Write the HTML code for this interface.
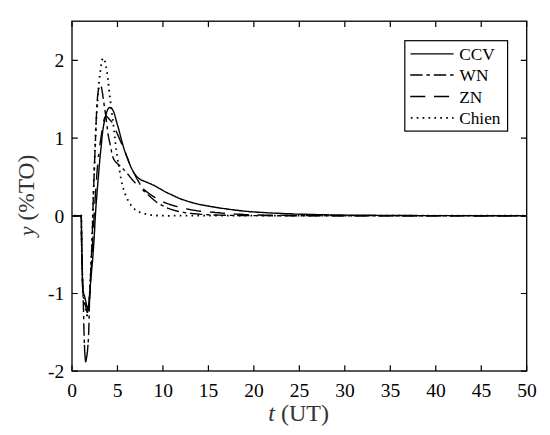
<!DOCTYPE html>
<html><head><meta charset="utf-8"><style>
html,body{margin:0;padding:0;background:#fff;}
svg{display:block;}
text{font-family:"Liberation Serif",serif;fill:#000;}
</style></head><body>
<svg width="550" height="435" viewBox="0 0 550 435">
<rect width="550" height="435" fill="#fff"/>
<path d="M72.0 215.7 81.3 215.7 81.3 218.1 81.4 220.6 81.4 223.0 81.4 225.5 81.4 227.9 81.5 230.4 81.5 232.8 81.5 235.2 81.6 237.6 81.6 240.0 81.6 242.2 81.7 244.4 81.7 246.6 81.8 248.8 81.8 250.9 81.9 253.1 81.9 255.2 82.0 257.4 82.0 259.7 82.1 262.0 82.2 264.7 82.2 267.7 82.3 270.7 82.4 273.9 82.4 277.0 82.5 280.0 82.6 282.9 82.7 285.5 82.8 287.9 82.9 290.0 83.0 290.9 83.0 291.7 83.1 292.4 83.1 293.1 83.2 293.7 83.3 294.4 83.3 295.0 83.4 295.6 83.5 296.3 83.6 297.0 83.7 297.9 83.9 298.8 84.0 299.7 84.1 300.6 84.3 301.5 84.5 302.4 84.6 303.4 84.8 304.3 84.9 305.1 85.1 306.0 85.2 306.7 85.4 307.5 85.5 308.2 85.6 309.0 85.8 309.7 85.9 310.4 86.0 311.0 86.2 311.7 86.3 312.3 86.4 312.8 86.5 313.1 86.5 313.5 86.6 313.8 86.7 314.1 86.7 314.4 86.8 314.7 86.9 315.0 87.0 315.1 87.0 315.3 87.1 315.3 87.2 315.3 87.2 315.2 87.3 315.0 87.4 314.9 87.5 314.6 87.5 314.4 87.6 314.1 87.7 313.9 87.7 313.6 87.8 313.3 87.9 312.8 88.0 312.1 88.1 311.4 88.2 310.7 88.3 309.9 88.4 309.1 88.5 308.3 88.5 307.5 88.6 306.7 88.7 306.0 88.8 305.3 88.9 304.7 88.9 304.0 89.0 303.4 89.1 302.8 89.1 302.1 89.2 301.4 89.3 300.7 89.3 299.9 89.4 299.0 89.5 297.2 89.7 295.1 89.8 292.8 89.9 290.3 90.0 287.8 90.1 285.1 90.3 282.5 90.4 279.9 90.5 277.4 90.6 275.0 90.7 272.9 90.8 270.9 90.9 268.9 91.0 266.9 91.1 264.9 91.2 263.0 91.2 261.0 91.3 259.0 91.4 257.0 91.5 255.0 91.6 252.8 91.7 250.7 91.8 248.5 91.8 246.3 91.9 244.0 92.0 241.8 92.1 239.6 92.2 237.4 92.2 235.2 92.3 233.0 92.4 230.9 92.4 228.8 92.5 226.6 92.6 224.5 92.6 222.4 92.7 220.3 92.7 218.2 92.8 216.2 92.8 214.1 92.9 212.0 93.0 210.0 93.0 208.0 93.1 206.0 93.1 204.0 93.2 202.0 93.3 200.0 93.3 198.0 93.4 196.0 93.4 194.0 93.5 192.0 93.6 190.0 93.6 188.0 93.7 185.9 93.8 183.9 93.8 181.9 93.9 179.8 94.0 177.8 94.1 175.9 94.1 173.9 94.2 172.0 94.3 170.3 94.3 168.7 94.4 167.1 94.4 165.4 94.5 163.9 94.6 162.3 94.6 160.7 94.7 159.1 94.7 157.6 94.8 156.0 94.9 154.5 94.9 153.0 95.0 151.5 95.0 150.0 95.1 148.5 95.2 147.0 95.2 145.5 95.3 144.0 95.3 142.5 95.4 141.0" fill="none" stroke="#000" stroke-width="1.80" stroke-dasharray="1.6 4.3" stroke-dashoffset="3.52"/>
<path d="M95.4 141.0 95.5 139.5 95.5 138.0 95.6 136.4 95.6 134.9 95.7 133.4 95.7 131.9 95.8 130.4 95.9 128.9 95.9 127.4 96.0 126.0 96.1 124.7 96.1 123.5 96.2 122.3 96.3 121.1 96.3 119.8 96.4 118.7 96.5 117.5 96.6 116.3 96.6 115.1 96.7 114.0 96.8 113.0 96.8 112.0 96.9 111.0 97.0 110.0 97.0 109.0 97.1 108.0 97.2 107.0 97.3 106.0 97.3 105.0 97.4 104.0 97.5 102.8 97.6 101.6 97.6 100.4 97.7 99.2 97.8 98.0 97.9 96.7 98.0 95.5 98.0 94.3 98.1 93.1 98.2 92.0 98.3 91.0 98.3 90.1 98.4 89.1 98.5 88.2 98.5 87.3 98.6 86.4 98.7 85.5 98.7 84.7 98.8 83.8 98.9 83.0 99.0 82.4 99.0 81.7 99.1 81.1 99.2 80.5 99.2 80.0 99.3 79.4 99.4 78.8 99.5 78.3 99.5 77.7 99.6 77.1 99.7 76.5 99.7 75.9 99.8 75.4 99.9 74.8 99.9 74.2 100.0 73.6 100.1 73.0 100.2 72.5 100.2 71.9 100.3 71.3 100.4 70.7 100.4 70.2 100.5 69.6 100.6 69.0 100.6 68.4 100.7 67.9 100.8 67.3 100.8 66.7 100.9 66.2 101.0 65.6 101.1 65.0 101.2 64.5 101.2 63.9 101.3 63.3 101.4 62.7 101.5 62.2 101.6 61.6 101.7 61.1 101.8 60.6 102.0 60.2 102.1 59.9 102.2 59.6 102.4 59.3 102.5 59.0 102.7 58.7 102.8 58.5 103.0 58.3 103.1 58.1 103.3 58.0 103.4 58.0 103.5 58.1 103.7 58.2 103.8 58.5 104.0 58.7 104.1 59.1 104.3 59.5 104.4 59.9 104.6 60.3 104.7 60.6 104.8 61.0 104.9 61.4 105.1 61.8 105.2 62.3 105.3 62.7 105.4 63.2 105.5 63.6 105.6 64.1 105.7 64.6 105.8 65.0 105.9 65.5 106.0 66.0 106.1 66.5 106.2 67.0 106.3 67.6 106.4 68.1 106.5 68.6 106.5 69.2 106.6 69.7 106.7 70.3 106.8 70.8 106.9 71.4 107.0 71.9 107.1 72.5 107.1 73.1 107.2 73.6 107.3 74.2 107.4 74.8 107.4 75.3 107.5 75.9 107.6 76.5 107.7 77.1 107.7 77.7 107.8 78.3 107.9 78.9 108.0 79.5 108.0 80.1 108.1 80.7 108.2 81.3 108.2 81.9 108.3 82.5 108.4 83.1 108.4 83.7 108.5 84.3 108.5 84.9 108.6 85.5 108.7 86.1 108.7 86.7 108.8 87.3 108.8 87.9 108.9 88.5 109.0 89.1 109.0 89.8 109.1 90.4 109.2 91.1 109.2 91.7 109.3 92.4 109.4 93.0 109.4 93.7 109.5 94.3 109.6 95.0 109.7 95.7 109.8 96.4 109.9 97.1 109.9 97.7 110.0 98.4 110.1 99.1 110.2 99.8 110.3 100.6 110.4 101.3 110.5 102.0 110.6 102.8 110.7 103.6 110.8 104.5 110.9 105.3 111.0 106.2 111.2 107.1 111.3 107.9 111.4 108.8 111.5 109.6 111.6 110.5 111.7 111.3 111.8 112.2 111.9 113.0 112.0 113.9 112.2 114.7 112.3 115.6 112.4 116.4 112.5 117.3 112.6 118.1 112.7 119.0 112.8 119.9 112.9 120.7 113.0 121.6 113.1 122.4 113.2 123.3 113.3 124.1 113.4 125.0 113.5 125.8 113.6 126.7 113.7 127.5 113.8 128.3 113.9 129.1 114.0 129.9 114.1 130.7 114.2 131.5 114.2 132.4 114.3 133.1 114.4 133.9 114.5 134.7 114.6 135.5 114.7 136.2 114.8 136.9 114.8 137.6 114.9 138.3 115.0 139.0 115.1 139.7 115.2 140.4 115.2 141.1 115.3 141.8 115.4 142.5 115.5 143.2 115.6 143.8 115.6 144.5 115.7 145.1 115.8 145.8 115.9 146.4 116.0 147.1 116.0 147.7 116.1 148.4 116.2 149.0 116.3 149.6 116.4 150.2 116.5 150.9 116.5 151.5 116.6 152.1 116.7 152.7 116.8 153.3 116.9 154.0 117.0 154.6 117.1 155.2 117.2 155.8 117.3 156.5 117.4 157.1 117.5 157.7 117.6 158.3 117.7 159.0 117.8 159.6 117.9 160.2 118.0 160.9 118.1 161.5" fill="none" stroke="#000" stroke-width="1.80" stroke-dasharray="1.6 4.3" stroke-dashoffset="1.39"/>
<path d="M118.1 161.5 118.2 162.2 118.3 162.9 118.4 163.6 118.5 164.3 118.6 165.0 118.8 165.7 118.9 166.4 119.0 167.1 119.1 167.8 119.2 168.5 119.3 169.2 119.4 169.9 119.5 170.6 119.7 171.3 119.8 172.0 119.9 172.7 120.0 173.4 120.2 174.1 120.3 174.8 120.4 175.5 120.5 176.2 120.6 176.9 120.8 177.6 120.9 178.3 121.0 179.0 121.1 179.7 121.3 180.4 121.4 181.1 121.5 181.8 121.7 182.5 121.9 183.1 122.0 183.8 122.2 184.4 122.3 185.1 122.5 185.7 122.7 186.3 122.8 186.9 123.0 187.6 123.2 188.2 123.4 188.8 123.6 189.4 123.8 190.0 124.0 190.6 124.2 191.2 124.4 191.7 124.6 192.3 124.8 192.9 125.0 193.5 125.2 194.0 125.4 194.6 125.6 195.2 125.8 195.7 126.1 196.3 126.3 196.8 126.5 197.3 126.8 197.9 127.0 198.4 127.3 198.9 127.5 199.5 127.8 200.0 128.1 200.5 128.3 201.0 128.6 201.6 128.9 202.1 129.2 202.6 129.5 203.1 129.8 203.6 130.1 204.1 130.5 204.5 130.8 205.0 131.1 205.5 131.5 205.9 131.8 206.4 132.2 206.8 132.6 207.2 133.0 207.6 133.4 208.1 133.8 208.5 134.2 208.8 134.6 209.2 135.1 209.6 135.5 209.9 136.0 210.2 136.5 210.6 137.0 210.9 137.5 211.2 138.0 211.4 138.5 211.7 139.1 212.0 139.6 212.2 140.1 212.4 140.7 212.6 141.2 212.8 141.7 213.0 142.3 213.2 142.9 213.3 143.4 213.5 144.0 213.6 144.5 213.8 145.1 213.9 145.7 214.0 146.3 214.2 146.9 214.3 147.5 214.4 148.1 214.5 148.7 214.6 149.3 214.7 149.9 214.8 150.5 214.9 151.1 215.0 151.7 215.1 152.3 215.1 152.9 215.2 153.5 215.3 154.0 215.3 154.6 215.3 155.2 215.4 155.8 215.4 156.5 215.5 157.1 215.5 157.8 215.5 158.6 215.6 159.4 215.6 160.2 215.6 161.0 215.7 161.8 215.7 162.6 215.7 163.4 215.7 164.2 215.8 165.0 215.8 169.0 215.8 173.0 215.7 177.0 215.7 181.0 215.7 185.0 215.7 189.0 215.7 193.0 215.7 197.0 215.7 201.0 215.7 205.0 215.7 209.0 215.7 213.0 215.7 217.0 215.7 221.0 215.7 225.0 215.7 229.0 215.7 233.0 215.7 237.0 215.7 241.0 215.7 245.0 215.7 249.0 215.7 253.0 215.7 257.0 215.7 261.0 215.7 265.0 215.7 269.0 215.7 273.0 215.7 277.0 215.7 281.0 215.7 285.0 215.7 289.0 215.7 293.0 215.7 297.0 215.7 301.0 215.7 305.0 215.7 309.0 215.7 313.0 215.7 317.0 215.7 321.0 215.7 325.0 215.7 329.0 215.7 333.0 215.7 337.0 215.7 341.0 215.7 345.0 215.7 349.0 215.7 353.0 215.7 357.0 215.7 361.0 215.7 365.0 215.7 369.0 215.7 373.0 215.7 377.0 215.7 381.0 215.7 385.0 215.7 389.0 215.7 393.0 215.7 397.0 215.7 401.0 215.7 405.0 215.7 409.0 215.7 413.0 215.7 417.0 215.7 421.0 215.7 425.0 215.7 429.0 215.7 433.0 215.7 437.0 215.7 441.0 215.7 445.0 215.7 449.0 215.7 453.0 215.7 457.0 215.7 461.0 215.7 465.0 215.7 469.0 215.7 473.0 215.7 477.0 215.7 481.0 215.7 485.0 215.7 489.0 215.7 493.0 215.7 497.0 215.7 501.0 215.7 505.0 215.7 509.0 215.7 513.0 215.7 517.0 215.7 521.0 215.7 525.0 215.7 526.7 215.7" fill="none" stroke="#000" stroke-width="1.80" stroke-dasharray="1.6 4.3" stroke-dashoffset="2.33"/>
<path d="M72.0 215.7 81.3 215.7 81.3 218.1 81.4 220.6 81.4 223.0 81.4 225.5 81.4 227.9 81.5 230.4 81.5 232.8 81.5 235.2 81.6 237.6 81.6 240.0 81.6 242.2 81.7 244.4 81.7 246.6 81.8 248.8 81.8 250.9 81.9 253.1 81.9 255.2 82.0 257.4 82.0 259.7 82.1 262.0 82.2 264.8 82.2 267.7 82.3 270.8 82.4 273.9 82.4 277.1 82.5 280.1 82.6 283.0 82.7 285.7 82.8 288.0 82.9 290.0 83.0 290.8 83.0 291.5 83.1 292.1 83.1 292.7 83.2 293.2 83.3 293.7 83.3 294.3 83.4 294.8 83.5 295.4 83.6 296.0 83.7 296.8 83.9 297.6 84.0 298.5 84.2 299.4 84.3 300.3 84.5 301.2 84.7 302.0 84.9 302.9 85.0 303.7 85.2 304.5 85.3 305.1 85.5 305.8 85.6 306.4 85.7 307.0 85.9 307.6 86.0 308.2 86.1 308.7 86.2 309.3 86.4 309.7 86.5 310.2 86.6 310.5 86.7 310.8 86.7 311.1 86.8 311.4 86.9 311.6 87.0 311.9 87.1 312.1 87.1 312.3 87.2 312.4 87.3 312.4 87.4 312.4 87.4 312.3 87.5 312.1 87.6 312.0 87.7 311.8 87.7 311.5 87.8 311.3 87.9 311.0 87.9 310.8 88.0 310.5 88.1 310.0 88.2 309.5 88.3 308.8 88.4 308.2 88.4 307.5 88.5 306.8 88.6 306.1 88.7 305.4 88.7 304.7 88.8 304.0 88.9 303.3 89.0 302.7 89.0 302.0 89.1 301.4 89.2 300.8 89.3 300.1 89.4 299.4 89.4 298.6 89.5 297.9 89.6 297.0 89.7 295.4 89.9 293.5 90.0 291.5 90.1 289.4 90.2 287.2 90.3 284.9 90.5 282.6 90.6 280.3 90.7 278.1 90.8 276.0 90.9 274.0 91.0 272.0 91.1 270.0 91.2 268.0 91.4 266.0 91.5 264.0 91.6 262.0 91.7 260.0 91.8 258.0 91.9 256.0 92.0 254.0 92.1 252.0 92.2 250.0 92.3 247.9 92.5 245.9 92.6 243.9 92.7 241.9 92.8 239.9 92.9 238.0 93.0 236.0 93.1 234.2 93.2 232.4 93.3 230.6 93.4 228.8 93.5 227.0 93.6 225.2 93.7 223.4 93.8 221.6 93.9 219.8 94.0 218.0 94.1 216.0 94.2 214.1 94.3 212.1 94.5 210.1 94.6 208.1 94.7 206.0 94.8 204.0 94.9 202.0 95.1 200.0 95.2 198.0 95.3 196.0 95.5 193.9 95.6 191.9 95.8 189.8 95.9 187.7 96.0 185.7 96.2 183.7 96.3 181.7 96.5 179.8 96.6 178.0 96.7 176.6 96.8 175.2 96.9 173.8 97.0 172.4 97.1 171.1 97.2 169.8 97.3 168.6 97.4 167.4 97.5 166.2 97.6 165.0 97.7 164.1 97.8 163.3 97.8 162.5 97.9 161.7 98.0 160.9 98.1 160.1 98.1 159.4 98.2 158.6 98.3 157.8 98.4 157.0" fill="none" stroke="#000" stroke-width="1.40" stroke-dasharray="15.1 8.9" stroke-dashoffset="0.00"/>
<path d="M98.4 157.0 98.5 156.1 98.6 155.2 98.7 154.3 98.8 153.4 98.9 152.5 99.0 151.6 99.1 150.7 99.3 149.8 99.4 148.9 99.5 148.0 99.6 147.1 99.7 146.1 99.9 145.2 100.0 144.2 100.1 143.2 100.3 142.3 100.4 141.3 100.5 140.4 100.7 139.4 100.8 138.5 100.9 137.6 101.1 136.7 101.2 135.8 101.4 134.8 101.5 133.9 101.7 133.0 101.8 132.1 102.0 131.2 102.2 130.4 102.3 129.5 102.4 128.7 102.6 127.9 102.7 127.1 102.8 126.4 102.9 125.6 103.1 124.8 103.2 124.1 103.3 123.4 103.5 122.7 103.6 122.0 103.7 121.5 103.8 121.0 103.9 120.5 104.0 120.0 104.1 119.6 104.3 119.1 104.4 118.7 104.5 118.3 104.6 117.9 104.8 117.6 104.9 117.4 105.0 117.2 105.1 117.0 105.2 116.8 105.4 116.7 105.5 116.5 105.6 116.4 105.7 116.3 105.9 116.2 106.0 116.2 106.1 116.2 106.3 116.3 106.5 116.3 106.6 116.5 106.8 116.6 106.9 116.8 107.1 116.9 107.3 117.1 107.4 117.2 107.6 117.4 107.8 117.6 108.0 117.8 108.2 118.0 108.4 118.2 108.5 118.4 108.7 118.6 108.9 118.8 109.1 119.1 109.3 119.3 109.5 119.5 109.7 119.7 109.9 119.9 110.1 120.1 110.3 120.3 110.5 120.5 110.7 120.7 110.9 120.9 111.1 121.1 111.3 121.3 111.5 121.6 111.8 122.0 112.1 122.4 112.3 122.9 112.6 123.4 112.9 123.9 113.1 124.4 113.4 124.9 113.7 125.4 113.9 126.0 114.2 126.5 114.5 127.1 114.7 127.7 115.0 128.3 115.3 128.9 115.5 129.5 115.8 130.1 116.0 130.7 116.3 131.3 116.5 132.0 116.8 132.6 117.1 133.3 117.4 133.9 117.7 134.6 118.0 135.3 118.3 136.0 118.6 136.7 118.9 137.4 119.2 138.1 119.5 138.8 119.8 139.5 120.1 140.3 120.5 141.1 120.8 141.8 121.2 142.6 121.5 143.4 121.9 144.2 122.3 145.0 122.6 145.9 123.0 146.7 123.3 147.5 123.7 148.4 124.0 149.3 124.4 150.1 124.7 151.0 125.0 151.9 125.4 152.8 125.7 153.7 126.1 154.7 126.4 155.6 126.8 156.5" fill="none" stroke="#000" stroke-width="1.40" stroke-dasharray="15.1 8.9" stroke-dashoffset="12.10"/>
<path d="M126.8 156.5 127.2 157.5 127.6 158.5 128.0 159.5 128.3 160.5 128.7 161.5 129.1 162.5 129.5 163.5 130.0 164.5 130.4 165.5 130.8 166.5 131.2 167.4 131.7 168.4 132.1 169.4 132.6 170.3 133.1 171.3 133.6 172.2 134.0 173.1 134.5 174.0 134.9 174.8 135.3 175.6 135.6 176.1 135.8 176.6 136.1 177.1 136.3 177.6 136.6 178.1 136.8 178.5 137.1 179.0 137.3 179.4 137.5 179.8 137.8 180.3 138.1 180.8 138.3 181.2 138.6 181.6 138.9 182.1 139.1 182.5 139.4 183.0 139.7 183.4 139.9 183.8 140.2 184.3 140.5 184.7 140.8 185.1 141.0 185.5 141.3 185.9 141.5 186.4 141.8 186.8 142.0 187.2 142.3 187.6" fill="none" stroke="#000" stroke-width="1.40" stroke-dasharray="15.1 8.9" stroke-dashoffset="7.69"/>
<path d="M142.3 187.6 142.6 188.0 142.9 188.4 143.3 188.8 143.8 189.3 144.3 189.8 144.9 190.3 145.6 190.9 146.2 191.4 146.9 191.9 147.5 192.4 148.2 192.9 148.9 193.3 149.5 193.8 150.1 194.2 150.7 194.7 151.3 195.1 151.9 195.5 152.5 195.9 153.1 196.3 153.8 196.7 154.4 197.1 155.0 197.5 155.7 197.9 156.4 198.3 157.2 198.8 157.9 199.2 158.7 199.6 159.5 200.0 160.2 200.5 161.0 200.9 161.8 201.3 162.6 201.6 163.4 202.0 164.2 202.3 165.0 202.7 165.8 203.0 166.7 203.3 167.5 203.6 168.3 203.9 169.2 204.2 170.0 204.5 170.7 204.8 171.5 205.0 172.1 205.2 172.7 205.4 173.2 205.5 173.7 205.7 174.3 205.8 174.8 206.0 175.3 206.1 175.9 206.3 176.5 206.4 177.1 206.6 177.9 206.8 178.8 207.0 179.7 207.3 180.7 207.5 181.7 207.7 182.6 208.0 183.6 208.2 184.5 208.4 185.4 208.6 186.3 208.8 187.0 208.9 187.6 209.1 188.2 209.2 188.8 209.3 189.4 209.4 190.0 209.6 190.6 209.7 191.2 209.8 191.9 209.9 192.5 210.0 193.2 210.1 193.9 210.3 194.7 210.4 195.4 210.5 196.1 210.6 196.9 210.8 197.7 210.9 198.4 211.0 199.2 211.1 200.0 211.2 200.9 211.3 201.8 211.4 202.7 211.5 203.6 211.6 204.6 211.6 205.5 211.7 206.5 211.8 207.5 211.8 208.5 211.9 209.5 212.0 210.8 212.1 212.2 212.2 213.7 212.3 215.1 212.5 216.6 212.6 218.1 212.7 219.6 212.8 221.1 213.0 222.6 213.1 224.1 213.2 228.1 213.5 232.1 213.8 236.1 214.1 240.1 214.3 244.1 214.5 248.1 214.6 252.1 214.8 256.1 214.9 260.1 215.0 264.1 215.1 268.1 215.2 272.1 215.2 276.1 215.3 280.1 215.4 284.1 215.4 288.1 215.4 292.1 215.5 296.1 215.5 300.1 215.5 304.1 215.6 308.1 215.6 312.1 215.6 316.1 215.6 320.1 215.6 324.1 215.6 328.1 215.6 332.1 215.6 336.1 215.7 340.1 215.7 344.1 215.7 348.1 215.7 352.1 215.7 356.1 215.7 360.1 215.7 364.1 215.7 368.1 215.7 372.1 215.7 376.1 215.7 380.1 215.7 384.1 215.7 388.1 215.7 392.1 215.7 396.1 215.7 400.1 215.7 404.1 215.7 408.1 215.7 412.1 215.7 416.1 215.7 420.1 215.7 424.1 215.7 428.1 215.7 432.1 215.7 436.1 215.7 440.1 215.7 444.1 215.7 448.1 215.7 452.1 215.7 456.1 215.7 460.1 215.7 464.1 215.7 468.1 215.7 472.1 215.7 476.1 215.7 480.1 215.7 484.1 215.7 488.1 215.7 492.1 215.7 496.1 215.7 500.1 215.7 504.1 215.7 508.1 215.7 512.1 215.7 516.1 215.7 520.1 215.7 524.1 215.7 526.7 215.7" fill="none" stroke="#000" stroke-width="1.40" stroke-dasharray="15.1 8.9" stroke-dashoffset="22.43"/>
<path d="M72.0 215.7 81.3 215.7 81.3 218.1 81.4 220.6 81.4 223.0 81.4 225.5 81.4 227.9 81.5 230.4 81.5 232.8 81.5 235.2 81.6 237.6 81.6 240.0 81.6 242.2 81.7 244.4 81.7 246.6 81.8 248.8 81.8 250.9 81.9 253.1 81.9 255.2 82.0 257.4 82.0 259.7 82.1 262.0 82.2 264.7 82.2 267.4 82.3 270.2 82.4 273.0 82.5 275.9 82.6 278.8 82.7 281.6 82.7 284.4 82.8 287.2 82.9 290.0 83.0 292.6 83.0 295.1 83.1 297.6 83.2 300.2" fill="none" stroke="#000" stroke-width="1.40" stroke-dasharray="12.4 3.9 3.4 3.9" stroke-dashoffset="0.00"/>
<path d="M83.2 300.2 83.3 302.7 83.3 305.1 83.4 307.6 83.5 310.1 83.5 312.5 83.6 315.0 83.7 317.4 83.7 319.7 83.8 322.1 83.8 324.5 83.9 326.8 83.9 329.1 84.0 331.4 84.1 333.7 84.1 335.9 84.2 338.0 84.3 339.7 84.3 341.5 84.4 343.2 84.4 344.9" fill="none" stroke="#000" stroke-width="1.40" stroke-dasharray="12.4 3.9 3.4 3.9" stroke-dashoffset="0.52"/>
<path d="M84.4 344.9 84.5 346.5 84.6 348.2 84.6 349.7 84.7 351.2 84.8 352.6 84.9 354.0 85.0 355.0 85.0 356.0 85.1 357.0 85.2 358.0 85.3 359.0 85.3 359.9 85.4 360.6 85.5 361.2 85.6 361.6 85.7 361.7 85.8 361.6 85.9 361.4 86.0 361.1 86.1 360.6 86.2 360.1 86.3 359.5 86.4 358.9 86.5 358.2 86.6 357.6 86.7 357.0 86.8 356.1 87.0 355.1 87.1 354.1 87.2 353.0 87.4 351.9 87.5 350.7 87.6 349.5 87.7 348.4 87.8 347.2 87.9 346.0 88.0 344.7" fill="none" stroke="#000" stroke-width="1.40" stroke-linejoin="round"/>
<path d="M88.0 344.7 88.1 343.3 88.2 341.9 88.3 340.5 88.4 339.1 88.4 337.7 88.5 336.3 88.6 334.8 88.6 333.4 88.7 332.0 88.8 330.6 88.8 329.2 88.8 327.9 88.9 326.5 88.9 325.2 89.0 323.8 89.0 322.4 89.0 321.0 89.1 319.5 89.1 318.0 89.1 316.2 89.2 314.2 89.2 312.3 89.3 310.3 89.3 308.3 89.4 306.3 89.4 304.2 89.5 302.1 89.5 300.1" fill="none" stroke="#000" stroke-width="1.40" stroke-dasharray="12.4 3.9 3.4 3.9" stroke-dashoffset="14.02"/>
<path d="M89.5 300.1 89.6 298.0 89.7 295.8 89.8 293.5 89.9 291.2 90.0 288.8 90.1 286.5 90.2 284.2 90.3 281.8 90.4 279.5 90.5 277.2 90.6 275.0 90.7 272.9 90.8 270.9 90.9 268.9 91.0 266.9 91.1 265.0 91.2 263.0 91.2 261.0 91.3 259.0 91.4 257.0 91.5 255.0 91.6 252.8 91.7 250.7 91.8 248.5 91.8 246.3 91.9 244.0 92.0 241.8 92.1 239.6 92.2 237.4 92.2 235.2 92.3 233.0 92.4 230.9 92.4 228.8 92.5 226.6 92.6 224.5 92.6 222.4 92.7 220.3 92.7 218.2 92.8 216.2 92.8 214.1 92.9 212.0 93.0 210.0 93.0 208.0 93.1 206.0 93.1 204.0 93.2 202.0 93.3 200.0 93.3 198.0 93.4 196.0 93.4 194.0 93.5 192.0 93.6 190.0 93.6 188.0 93.7 185.9 93.8 183.9 93.8 181.9 93.9 179.8 94.0 177.8 94.1 175.9 94.1 173.9 94.2 172.0 94.3 170.3 94.3 168.7 94.4 167.1 94.4 165.4 94.5 163.9 94.6 162.3 94.6 160.7 94.7 159.1 94.7 157.6 94.8 156.0 94.9 154.5 94.9 153.0 95.0 151.5 95.0 150.0 95.1 148.5 95.2 147.0 95.2 145.5 95.3 144.0 95.3 142.5 95.4 141.0" fill="none" stroke="#000" stroke-width="1.40" stroke-dasharray="12.4 3.9 3.4 3.9" stroke-dashoffset="4.89"/>
<path d="M95.4 141.0 95.5 139.4 95.5 137.8 95.6 136.2 95.6 134.6 95.7 132.9 95.8 131.3 95.8 129.7 95.9 128.1 95.9 126.5 96.0 125.0 96.1 123.6 96.1 122.3 96.2 121.0 96.2 119.7 96.3 118.3 96.4 117.1 96.4 115.8 96.5 114.5 96.5 113.2 96.6 112.0 96.7 110.9 96.7 109.7 96.8 108.6 96.8 107.5 96.9 106.4 96.9 105.3 97.0 104.2 97.1 103.1 97.1 102.1 97.2 101.0 97.3 100.0 97.4 99.1 97.4 98.1 97.5 97.2 97.6 96.3 97.7 95.3 97.8 94.4 97.9 93.6 98.0 92.8 98.1 92.0 98.2 91.5 98.3 90.9 98.3 90.4 98.4 89.9 98.5 89.5 98.6 89.0 98.7 88.6 98.8 88.1 98.9 87.8 99.0 87.4 99.1 87.2 99.2 86.9 99.3 86.7 99.4 86.5 99.5 86.2 99.6 86.0 99.7 85.9 99.8 85.7 99.9 85.6 100.0 85.6" fill="none" stroke="#000" stroke-width="1.40" stroke-dasharray="12.4 3.9 3.4 3.9" stroke-dashoffset="6.20"/>
<path d="M100.0 85.6 100.1 85.6 100.2 85.6 100.3 85.7 100.4 85.8 100.6 85.9 100.7 86.0 100.8 86.1 100.9 86.3 101.0 86.4 101.1 86.6 101.3 86.9 101.4 87.4 101.6 87.8 101.7 88.4 101.8 88.9 101.9 89.5 102.0 90.2 102.1 90.8 102.2 91.4 102.3 92.0 102.4 92.7 102.6 93.5 102.7 94.3 102.8 95.2 102.9 96.0 103.0 96.8 103.1 97.7 103.3 98.5 103.4 99.4 103.5 100.2 103.6 101.0 103.7 101.9 103.9 102.7 104.0 103.5 104.1 104.3 104.2 105.2 104.3 106.0 104.5 106.8 104.6 107.7 104.7 108.5 104.8 109.3 104.9 110.2 105.1 111.0 105.2 111.8 105.3 112.7 105.4 113.5 105.6 114.3 105.7 115.1 105.8 116.0 105.9 116.8 106.0 117.6 106.1 118.4 106.2 119.3 106.3 120.1 106.4 120.9 106.5 121.7 106.6 122.5 106.7 123.4 106.8 124.2 106.9 125.0 107.0 125.8 107.1 126.7 107.2 127.5 107.3 128.3 107.4 129.2 107.5 130.0 107.6 130.9 107.7 131.7 107.8 132.5 107.9 133.3 108.0 134.0 108.2 134.8 108.3 135.5 108.4 136.2 108.6 137.0 108.7 137.7 108.9 138.4 109.0 139.1 109.2 139.8 109.3 140.5 109.4 141.2 109.6 141.8 109.7 142.5 109.9 143.1 110.0 143.8 110.1 144.4 110.3 145.1 110.4 145.7 110.6 146.4 110.7 147.0 110.8 147.6 110.9 148.3 111.1 148.9 111.2 149.6 111.3 150.2 111.4 150.8 111.5 151.5 111.6 152.1 111.8 152.7 111.9 153.3 112.0 153.8 112.1 154.3 112.3 154.9 112.4 155.4 112.5 155.9 112.7 156.4 112.8 156.8 113.0 157.3 113.1 157.8 113.3 158.2 113.5 158.6 113.6 158.9 113.8 159.3 114.0 159.6 114.2 159.9 114.4 160.3 114.6 160.6 114.8 160.9 115.1 161.2 115.3 161.5 115.6 161.8 115.8 162.1 116.1 162.4 116.4 162.7 116.7 162.9 117.0 163.2 117.3 163.5 117.6 163.8 117.9 164.0 118.2 164.3 118.5 164.6 118.8 164.8 119.1 165.1 119.4 165.4 119.7 165.6 120.1 165.9 120.4 166.2 120.7 166.4 121.0 166.7 121.3 167.0 121.6 167.3 121.9 167.6 122.2 168.0 122.6 168.3 122.9 168.6 123.2 168.9 123.5 169.3 123.8 169.6 124.1 170.0 124.4 170.3" fill="none" stroke="#000" stroke-width="1.40" stroke-dasharray="12.4 3.9 3.4 3.9" stroke-dashoffset="21.92"/>
<path d="M124.4 170.3 124.7 170.6 125.0 171.0 125.3 171.3 125.6 171.6 125.9 172.0 126.2 172.3 126.5 172.7 126.9 173.0 127.2 173.4 127.5 173.8 127.9 174.3 128.3 174.8 128.8 175.3 129.2 175.9 129.6 176.5 130.1 177.0 130.5 177.6 131.0 178.1 131.5 178.7 131.9 179.2 132.3 179.7 132.8 180.2 133.2 180.7 133.6 181.1 134.0 181.6 134.4 182.1 134.9 182.5 135.3 183.0 135.8 183.5 136.3 184.0" fill="none" stroke="#000" stroke-width="1.40" stroke-dasharray="12.4 3.9 3.4 3.9" stroke-dashoffset="18.92"/>
<path d="M142.6 189.9 143.3 190.5 144.0 191.1 144.6 191.7 145.3 192.3 146.0 192.9 146.7 193.5 147.3 194.1 148.0 194.7 148.7 195.3 149.3 195.9 150.0 196.5 150.6 197.1 151.3 197.7 151.9 198.2 152.6 198.8 153.2 199.4 153.9 200.0 154.5 200.5 155.2 201.0 155.8 201.5 156.4 202.0 156.9 202.4 157.4 202.7 157.9 203.0 158.4 203.3 158.8 203.6 159.3 203.9 159.8 204.2 160.3 204.4 160.8 204.7 161.3 205.0 161.9 205.3 162.4 205.6 163.0 205.9 163.6 206.2 164.1 206.5 164.7 206.8 165.3 207.1 166.0 207.4 166.6 207.7 167.3 208.0 168.2 208.4 169.2 208.7 170.3 209.1 171.3 209.4 172.4 209.8 173.5 210.1 174.6 210.4 175.7 210.7 176.7 211.0 177.6 211.2 178.3 211.4 178.9 211.5 179.5 211.6 180.1 211.8 180.7 211.9 181.2 212.0 181.8 212.1 182.4 212.2 183.0 212.3 183.6 212.4 184.2 212.5 184.9 212.6 185.5 212.7 186.2 212.8 186.8 212.9 187.4 213.0 188.1 213.1 188.8 213.1 189.5 213.2 190.2 213.3 191.1 213.4 192.0 213.5 193.0 213.6 194.0 213.7 195.0 213.8 196.0 213.9 197.0 213.9 198.0 214.0 199.0 214.1 200.0 214.2 204.0 214.5 208.0 214.7 212.0 214.9 216.0 215.0 220.0 215.1 224.0 215.2 228.0 215.3 232.0 215.4 236.0 215.5 240.0 215.5 244.0 215.5 248.0 215.6 252.0 215.6 256.0 215.6 260.0 215.6 264.0 215.6 268.0 215.6 272.0 215.7 276.0 215.7 280.0 215.7 284.0 215.7 288.0 215.7 292.0 215.7 296.0 215.7 300.0 215.7 304.0 215.7 308.0 215.7 312.0 215.7 316.0 215.7 320.0 215.7 324.0 215.7 328.0 215.7 332.0 215.7 336.0 215.7 340.0 215.7 344.0 215.7 348.0 215.7 352.0 215.7 356.0 215.7 360.0 215.7 364.0 215.7 368.0 215.7 372.0 215.7 376.0 215.7 380.0 215.7 384.0 215.7 388.0 215.7 392.0 215.7 396.0 215.7 400.0 215.7 404.0 215.7 408.0 215.7 412.0 215.7 416.0 215.7 420.0 215.7 424.0 215.7 428.0 215.7 432.0 215.7 436.0 215.7 440.0 215.7 444.0 215.7 448.0 215.7 452.0 215.7 456.0 215.7 460.0 215.7 464.0 215.7 468.0 215.7 472.0 215.7 476.0 215.7 480.0 215.7 484.0 215.7 488.0 215.7 492.0 215.7 496.0 215.7 500.0 215.7 504.0 215.7 508.0 215.7 512.0 215.7 516.0 215.7 520.0 215.7 524.0 215.7 526.7 215.7" fill="none" stroke="#000" stroke-width="1.40" stroke-dasharray="12.4 3.9 3.4 3.9" stroke-dashoffset="16.57"/>
<path d="M72.0 215.7 81.3 215.7 81.3 218.1 81.4 220.6 81.4 223.0 81.4 225.5 81.4 227.9 81.5 230.4 81.5 232.8 81.5 235.2 81.6 237.6 81.6 240.0 81.6 242.2 81.7 244.4 81.7 246.6 81.8 248.8 81.8 250.9 81.9 253.1 81.9 255.2 82.0 257.4 82.0 259.7 82.1 262.0 82.2 264.8 82.2 267.8 82.2 270.9 82.3 274.1 82.3 277.2 82.3 280.3 82.4 283.2 82.5 285.8 82.7 288.1 82.9 290.0 83.0 290.7 83.1 291.3 83.2 291.8 83.4 292.3 83.5 292.7 83.6 293.2 83.8 293.6 83.9 294.0 84.1 294.5 84.2 295.0 84.4 295.6 84.5 296.3 84.7 296.9 84.8 297.6 85.0 298.2 85.2 298.9 85.3 299.6 85.5 300.2 85.7 300.9 85.8 301.5 85.9 302.1 86.1 302.7 86.2 303.3 86.3 303.8 86.4 304.4 86.5 305.0 86.7 305.5 86.8 306.0 86.9 306.5 87.0 307.0 87.1 307.3 87.1 307.6 87.2 308.0 87.3 308.3 87.4 308.6 87.4 308.9 87.5 309.2 87.6 309.3 87.6 309.5 87.7 309.5 87.8 309.4 87.8 309.3 87.9 309.1 88.0 308.8 88.1 308.5 88.1 308.1 88.2 307.7 88.3 307.3 88.3 306.9 88.4 306.5 88.5 305.9 88.6 305.3 88.7 304.6 88.7 303.8 88.8 303.1 88.9 302.3 89.0 301.5 89.0 300.7 89.1 299.8 89.2 299.0 89.3 297.8 89.4 296.6 89.5 295.4 89.6 294.1 89.7 292.7 89.9 291.4 90.0 290.0 90.1 288.7 90.2 287.3 90.3 286.0 90.4 284.7 90.5 283.4 90.6 282.1 90.7 280.7 90.9 279.4 91.0 278.1 91.1 276.8 91.2 275.5 91.3 274.3 91.4 273.0 91.5 271.9 91.6 270.7 91.7 269.6 91.8 268.5 91.9 267.4 92.0 266.3 92.1 265.2 92.2 264.2 92.3 263.1 92.4 262.0 92.5 261.0 92.6 260.0 92.7 259.0 92.7 258.0 92.8 257.0 92.9 256.0 93.0 255.0 93.0 254.0 93.1 253.0 93.2 252.0 93.3 251.0 93.3 250.0 93.4 249.0 93.5 248.0 93.6 247.0 93.6 246.0 93.7 245.0 93.8 244.0 93.8 243.0 93.9 242.0 94.0 241.0 94.0 240.0 94.1 239.0 94.2 238.0 94.2 237.0 94.3 236.0 94.3 235.0 94.4 234.0 94.4 233.0 94.5 232.0 94.6 231.0 94.6 230.0 94.7 229.0 94.7 227.9 94.8 226.9 94.8 225.9 94.8 224.9 94.9 223.9 94.9 223.0 95.0 222.0 95.0 221.2 95.1 220.3 95.1 219.5 95.2 218.7 95.2 217.9 95.3 217.2 95.3 216.4 95.4 215.6 95.4 214.8 95.5 214.0 95.5 213.2 95.6 212.4 95.6 211.6 95.7 210.8 95.7 210.0 95.8 209.2 95.8 208.4 95.9 207.6 95.9 206.8 96.0 206.0 96.1 205.1 96.1 204.2 96.2 203.4 96.3 202.5 96.3 201.6 96.4 200.7 96.5 199.8 96.6 198.9 96.6 197.9 96.7 197.0 96.8 195.9 96.9 194.9 97.0 193.8 97.0 192.7 97.1 191.6 97.2 190.5 97.3 189.4 97.4 188.3 97.5 187.1 97.6 186.0 97.7 184.7 97.8 183.5 97.9 182.2 98.0 180.9 98.1 179.6 98.3 178.3 98.4 176.9 98.5 175.6 98.6 174.3 98.7 173.0 98.8 171.7 98.9 170.4 99.0 169.1 99.1 167.8 99.2 166.6 99.3 165.3 99.4 164.0 99.6 162.7 99.7 161.3 99.8 160.0 99.9 158.5 100.1 157.1 100.2 155.5 100.4 154.0 100.5 152.5 100.7 151.0 100.8 149.5 101.0 147.9 101.2 146.5 101.3 145.0 101.4 143.6 101.6 142.3 101.7 140.9 101.8 139.6 101.9 138.2 102.1 136.9 102.2 135.6 102.3 134.4 102.5 133.2 102.6 132.0 102.7 131.1 102.8 130.3 103.0 129.4 103.1 128.6 103.2 127.8 103.3 127.1 103.5 126.3 103.6 125.5 103.8 124.8 103.9 124.0 104.0 123.3 104.2 122.6 104.3 121.8 104.5 121.1 104.6 120.4 104.8 119.7 104.9 119.0 105.1 118.4 105.2 117.7 105.4 117.0 105.6 116.4 105.7 115.7 105.9 115.1 106.0 114.4 106.2 113.8 106.4 113.2 106.5 112.6 106.7 112.0 106.9 111.5 107.1 111.0 107.2 110.7 107.4 110.3 107.5 110.0 107.7 109.7 107.8 109.4 107.9 109.1 108.1 108.8 108.3 108.6 108.4 108.4 108.6 108.2 108.7 108.1 108.9 108.0 109.0 107.9 109.1 107.8 109.3 107.7 109.4 107.6 109.6 107.6 109.7 107.5 109.9 107.5 110.0 107.5 110.2 107.5 110.3 107.6 110.5 107.6 110.7 107.7 110.9 107.8 111.0 107.9 111.2 108.1 111.4 108.2 111.5 108.3 111.7 108.5 111.9 108.7 112.1 109.0 112.3 109.3 112.5 109.6 112.7 109.9 112.9 110.2 113.1 110.6 113.3 111.0 113.5 111.4 113.7 111.8 114.0 112.5 114.2 113.2 114.5 114.1 114.7 114.9 115.0 115.8 115.2 116.7 115.5 117.7 115.7 118.6 115.9 119.6 116.2 120.5 116.5 121.5 116.8 122.6 117.1 123.7 117.4 124.8 117.8 125.9 118.1 127.1 118.4 128.2 118.7 129.3 119.0 130.4 119.3 131.5 119.6 132.6 119.9 133.6 120.1 134.7 120.4 135.8 120.7 136.9 120.9 137.9 121.2 139.0 121.5 140.0 121.7 141.0 122.0 142.0 122.2 142.8 122.5 143.7 122.7 144.5 122.9 145.3 123.2 146.1 123.4 146.9 123.6 147.6 123.9 148.4 124.1 149.2 124.4 150.0 124.7 150.8 125.0 151.7 125.3 152.5 125.6 153.3 125.9 154.2 126.2 155.0 126.5 155.8 126.9 156.7 127.2 157.5 127.5 158.3 127.8 159.1 128.1 159.9 128.4 160.7 128.7 161.5 129.0 162.3 129.3 163.1 129.6 163.9 129.9 164.7 130.3 165.4 130.6 166.2 130.9 167.0 131.3 167.7 131.6 168.5 132.0 169.2 132.4 170.0 132.8 170.7 133.1 171.4 133.5 172.1 133.9 172.8 134.3 173.4 134.6 173.9 134.9 174.3 135.2 174.7 135.5 175.1 135.8 175.5 136.2 175.8 136.5 176.2 136.8 176.5 137.2 176.9 137.5 177.2 137.8 177.5 138.2 177.8 138.5 178.1 138.8 178.3 139.2 178.6 139.5 178.8 139.9 179.1 140.2 179.3 140.6 179.6 141.0 179.8 141.5 180.1 142.0 180.3 142.5 180.5 143.0 180.7 143.5 181.0 144.1 181.2 144.6 181.4 145.2 181.6 145.7 181.8 146.2 182.0 146.7 182.2 147.2 182.4 147.6 182.6 148.1 182.8 148.6 183.0 149.0 183.2 149.5 183.4 150.0 183.6 150.5 183.8 151.0 184.0 151.6 184.3 152.2 184.6 152.9 184.9 153.5 185.2 154.1 185.5 154.8 185.9 155.5 186.2 156.1 186.6 156.8 186.9 157.5 187.3 158.3 187.8 159.2 188.3 160.1 188.8 161.0 189.3 162.0 189.9 162.9 190.4 163.8 191.0 164.7 191.5 165.6 192.0 166.4 192.4 167.1 192.7 167.7 193.0 168.3 193.3 168.9 193.6 169.6 193.9 170.2 194.2 170.8 194.4 171.4 194.7 172.0 195.0 172.7 195.3 173.5 195.7 174.2 196.0 175.0 196.4 175.8 196.8 176.6 197.1 177.4 197.5 178.2 197.9 179.1 198.3 180.0 198.6 180.9 199.0 182.2 199.5 183.5 199.9 185.0 200.4 186.4 200.9 187.9 201.4 189.5 201.8 191.0 202.3 192.5 202.7 194.0 203.1 195.5 203.5 196.9 203.8 198.3 204.2 199.7 204.5 201.1 204.8 202.5 205.0 203.9 205.3 205.3 205.5 206.7 205.8 208.1 206.0 209.5 206.3 210.9 206.6 212.4 206.8 213.9 207.0 215.3 207.3 216.8 207.5 218.2 207.7 219.7 208.0 221.2 208.2 222.6 208.4 224.1 208.6 225.6 208.8 227.0 209.0 228.4 209.2 229.9 209.4 231.3 209.6 232.8 209.8 234.2 210.0 235.7 210.2 237.1 210.3 238.6 210.5 240.0 210.7 241.5 210.8 242.9 211.0 244.3 211.1 245.7 211.3 247.2 211.4 248.6 211.5 250.1 211.7 251.6 211.8 253.2 211.9 255.1 212.0 257.0 212.2 259.0 212.3 261.1 212.4 263.1 212.5 265.2 212.6 267.3 212.8 269.4 212.9 271.5 213.0 273.5 213.1 277.5 213.3 281.5 213.5 285.5 213.7 289.5 213.8 293.5 214.0 297.5 214.1 301.5 214.2 305.5 214.3 309.5 214.4 313.5 214.5 317.5 214.6 321.5 214.7 325.5 214.8 329.5 214.9 333.5 214.9 337.5 215.0 341.5 215.0 345.5 215.1 349.5 215.1 353.5 215.2 357.5 215.2 361.5 215.3 365.5 215.3 369.5 215.3 373.5 215.3 377.5 215.4 381.5 215.4 385.5 215.4 389.5 215.4 393.5 215.5 397.5 215.5 401.5 215.5 405.5 215.5 409.5 215.5 413.5 215.5 417.5 215.6 421.5 215.6 425.5 215.6 429.5 215.6 433.5 215.6 437.5 215.6 441.5 215.6 445.5 215.6 449.5 215.6 453.5 215.6 457.5 215.6 461.5 215.6 465.5 215.6 469.5 215.6 473.5 215.7 477.5 215.7 481.5 215.7 485.5 215.7 489.5 215.7 493.5 215.7 497.5 215.7 501.5 215.7 505.5 215.7 509.5 215.7 513.5 215.7 517.5 215.7 521.5 215.7 525.5 215.7 526.7 215.7" fill="none" stroke="#000" stroke-width="1.40" stroke-linejoin="round"/>
<path d="M72.00 371.00V365.20M72.00 21.20V27.00M117.47 371.00V365.20M117.47 21.20V27.00M162.94 371.00V365.20M162.94 21.20V27.00M208.41 371.00V365.20M208.41 21.20V27.00M253.88 371.00V365.20M253.88 21.20V27.00M299.35 371.00V365.20M299.35 21.20V27.00M344.82 371.00V365.20M344.82 21.20V27.00M390.29 371.00V365.20M390.29 21.20V27.00M435.76 371.00V365.20M435.76 21.20V27.00M481.23 371.00V365.20M481.23 21.20V27.00M526.70 371.00V365.20M526.70 21.20V27.00M72.00 371.16H77.80M526.70 371.16H520.90M72.00 293.48H77.80M526.70 293.48H520.90M72.00 215.80H77.80M526.70 215.80H520.90M72.00 138.12H77.80M526.70 138.12H520.90M72.00 60.44H77.80M526.70 60.44H520.90" stroke="#000" stroke-width="1.2" fill="none"/>
<rect x="72.00" y="21.20" width="454.70" height="349.80" fill="none" stroke="#000" stroke-width="1.3"/>
<g font-size="19.5"><text x="72.20" y="397.3" text-anchor="middle">0</text><text x="117.67" y="397.3" text-anchor="middle">5</text><text x="163.14" y="397.3" text-anchor="middle">10</text><text x="208.61" y="397.3" text-anchor="middle">15</text><text x="254.08" y="397.3" text-anchor="middle">20</text><text x="299.55" y="397.3" text-anchor="middle">25</text><text x="345.02" y="397.3" text-anchor="middle">30</text><text x="390.49" y="397.3" text-anchor="middle">35</text><text x="435.96" y="397.3" text-anchor="middle">40</text><text x="481.43" y="397.3" text-anchor="middle">45</text><text x="526.90" y="397.3" text-anchor="middle">50</text><text x="64.3" y="378.06" text-anchor="end">-2</text><text x="64.3" y="300.38" text-anchor="end">-1</text><text x="64.3" y="222.70" text-anchor="end">0</text><text x="64.3" y="145.02" text-anchor="end">1</text><text x="64.3" y="67.34" text-anchor="end">2</text></g>
<text x="298.7" y="420.8" font-size="24" text-anchor="middle" style="fill:#333"><tspan font-style="italic">t</tspan> (UT)</text>
<text transform="translate(34 195.4) rotate(-90)" font-size="23.4" text-anchor="middle" style="fill:#333"><tspan font-style="italic" font-size="21.5">y</tspan> (%TO)</text>
<g>
<rect x="404.8" y="40.7" width="102.8" height="90.4" fill="#fff" stroke="#000" stroke-width="1.2"/>
<path d="M410.5 53.9H453.6" stroke="#000" stroke-width="1.4"/>
<path d="M410.2 75H453.6" stroke="#000" stroke-width="1.4" stroke-dasharray="12.4 3.9 3.4 3.9"/>
<path d="M410.2 96.5H453.6" stroke="#000" stroke-width="1.4" stroke-dasharray="15.1 8.7"/>
<path d="M410.8 117.9H453.6" stroke="#000" stroke-width="1.7" stroke-dasharray="1.7 4.2"/>
<g font-size="17.3">
<text x="459.2" y="60">CCV</text>
<text x="459.6" y="81.3">WN</text>
<text x="459.2" y="102.7">ZN</text>
<text x="459.2" y="124">Chien</text>
</g>
</g>
</svg>
</body></html>
